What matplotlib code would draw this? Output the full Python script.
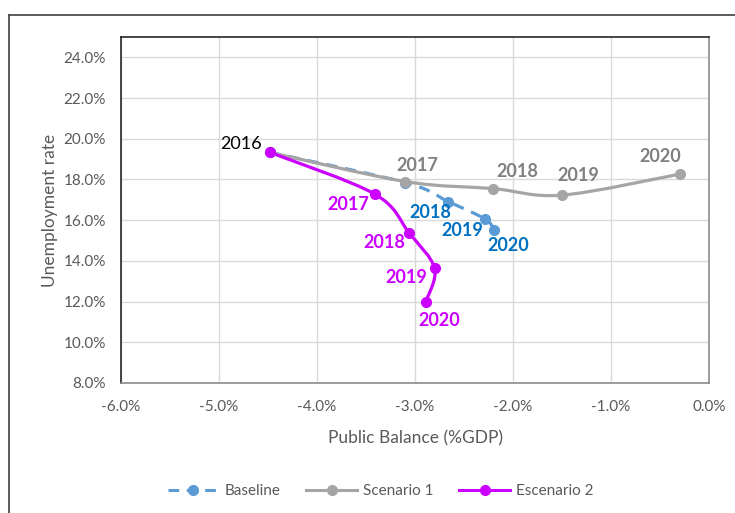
import matplotlib
matplotlib.use("Agg")
import matplotlib.pyplot as plt
from matplotlib.path import Path
from matplotlib.patches import PathPatch
from matplotlib.lines import Line2D
from matplotlib.ticker import FuncFormatter, MultipleLocator
import numpy as np

plt.rcParams['font.family'] = ['Lato', 'DejaVu Sans']

years = ["2016", "2017", "2018", "2019", "2020"]
baseline_x = [-4.48, -3.10, -2.66, -2.29, -2.19]
baseline_y = [19.33, 17.85, 16.91, 16.07, 15.53]
scen1_x = [-4.48, -3.10, -2.20, -1.50, -0.30]
scen1_y = [19.33, 17.90, 17.55, 17.23, 18.26]
scen2_x = [-4.48, -3.41, -3.06, -2.80, -2.89]
scen2_y = [19.33, 17.28, 15.37, 13.63, 11.99]

series_names = ["Baseline", "Scenario 1", "Escenario 2"]
line_colors = ["#5B9BD5", "#A5A5A5", "#CC00FF"]
label_colors = ["#0070C0", "#808080", "#CC00FF"]

# label offsets in pixels (text centre relative to point, +y = up)
off_base = [None, None, (-18, -11), (-22, -12), (14, -16)]
off_s1 = [(-29, 8), (12, 16), (24, 17), (16, 20), (-19, 18)]
off_s2 = [None, (-27, -10), (-25, -10), (-28, -9), (13, -19)]


def smooth_path(xs, ys):
    pts = np.column_stack([xs, ys])
    n = len(pts)
    verts = [tuple(pts[0])]
    codes = [Path.MOVETO]
    for i in range(n - 1):
        p0 = pts[i - 1] if i > 0 else pts[i]
        p1 = pts[i]
        p2 = pts[i + 1]
        p3 = pts[i + 2] if i + 2 < n else pts[i + 1]
        c1 = p1 + (p2 - p0) / 6.0
        c2 = p2 - (p3 - p1) / 6.0
        verts += [tuple(c1), tuple(c2), tuple(p2)]
        codes += [Path.CURVE4] * 3
    return Path(verts, codes)


fig = plt.figure(figsize=(7.35, 5.13), dpi=100)
ax = fig.add_axes([121 / 735, 1 - 383 / 513, (709 - 121) / 735, (383 - 37) / 513])

ax.set_xlim(-6, 0)
ax.set_ylim(8, 25)
ax.xaxis.set_major_locator(MultipleLocator(1))
ax.set_yticks(np.arange(8, 25, 2))
ax.xaxis.set_major_formatter(FuncFormatter(lambda v, p: f"{v:.1f}%"))
ax.yaxis.set_major_formatter(FuncFormatter(lambda v, p: f"{v:.1f}%"))
ax.grid(True, color="#D9D9D9", lw=1)
ax.set_axisbelow(True)
ax.tick_params(length=0, labelsize=11, colors="#595959")
ax.tick_params(axis="y", pad=11)
ax.tick_params(axis="x", pad=12)
for s in ["top", "left"]:
    ax.spines[s].set_color("#262626")
    ax.spines[s].set_linewidth(1.2)
for s in ["bottom", "right"]:
    ax.spines[s].set_color("#8C8C8C")
    ax.spines[s].set_linewidth(1.2)

data = [(baseline_x, baseline_y), (scen1_x, scen1_y), (scen2_x, scen2_y)]
styles = [(0, (3.5, 2.5)), "-", "-"]
for (xs, ys), col, ls in zip(data, line_colors, styles):
    patch = PathPatch(smooth_path(xs, ys), facecolor="none", edgecolor=col,
                      lw=2.3, linestyle=ls, zorder=3, capstyle="butt")
    ax.add_patch(patch)
    ax.plot(xs, ys, "o", color=col, ms=7, zorder=4)

offsets = [off_base, off_s1, off_s2]
for (xs, ys), offs, lc in zip(data, offsets, label_colors):
    for i, (x, y) in enumerate(zip(xs, ys)):
        if offs[i] is None:
            continue
        col = "black" if i == 0 else lc
        ax.annotate(years[i], (x, y), xytext=offs[i], textcoords="offset pixels",
                    ha="center", va="center", fontsize=13,
                    fontweight="normal" if i == 0 else "bold", color=col, zorder=5)

ax.set_xlabel("Public Balance (%GDP)", fontsize=12.5, color="#595959", labelpad=12)
ax.set_ylabel("Unemployment rate", fontsize=12.5, color="#595959", labelpad=4)

handles = [Line2D([], [], color=c, lw=2.2, ls=ls, marker="o", ms=7)
           for c, ls in zip(line_colors, styles)]
leg = fig.legend(handles, series_names, loc="center", bbox_to_anchor=(0.518, 1 - 491 / 513),
                 ncol=3, frameon=False, fontsize=11, handlelength=3.3, columnspacing=1.7,
                 handletextpad=0.4)
for t in leg.get_texts():
    t.set_color("#595959")

fig.add_artist(Line2D([9 / 735, 1], [1 - 15 / 513, 1 - 15 / 513], color="#404040", lw=1.2,
                      transform=fig.transFigure))
fig.add_artist(Line2D([9 / 735, 9 / 735], [0, 1 - 15 / 513], color="#404040", lw=1.2,
                      transform=fig.transFigure))

fig.savefig("out.png", dpi=100)
